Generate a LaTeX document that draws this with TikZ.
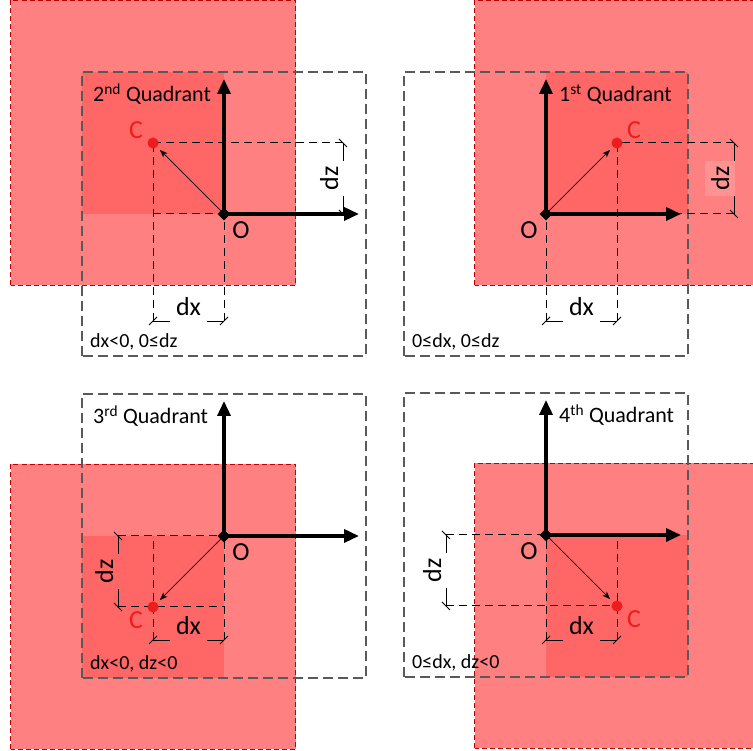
\documentclass[tikz,border=0pt]{standalone}
\usepackage{fontspec}
\setmainfont{Carlito}
\usetikzlibrary{arrows.meta, positioning, shapes.geometric}
\definecolor{sqred}{HTML}{FF8080}
\definecolor{quadred}{HTML}{FF6666}
\definecolor{dotred}{HTML}{EE1C1C}
\definecolor{boxgray}{HTML}{595959}
\tikzset{
  redsq/.style={fill=sqred, draw=red!75!black, dash pattern=on 5pt off 3pt, line width=0.8pt},
  graybox/.style={draw=boxgray, dash pattern=on 10pt off 5pt, line width=1.3pt},
  extline/.style={dash pattern=on 8pt off 5pt, line width=1pt},
  dimline/.style={line width=0.8pt},
  axisarrow/.style={line width=3.5pt, -{Triangle[length=15pt,width=13pt]}},
  vecarrow/.style={line width=0.7pt, -{Stealth[length=8pt,width=6pt]}, shorten >=4pt},
  origin/.style={diamond, fill=black, inner sep=0pt, minimum size=13pt},
  cpoint/.style={circle, fill=dotred, inner sep=0pt, minimum size=11pt},
  biglabel/.style={font=\fontsize{26}{30}\selectfont, inner sep=1pt},
  dimlabel/.style={biglabel, inner xsep=6pt, inner ysep=6pt},
  ordlabel/.style={font=\fontsize{22}{26}\selectfont, inner sep=0pt},
  condlabel/.style={font=\fontsize{20}{24}\selectfont, inner sep=0pt}
}

\begin{document}
\begin{tikzpicture}[x=1pt, y=1pt]
  \useasboundingbox (0,0) rectangle (753,751);
  \clip (0,0) rectangle (753,751);
  % quadrant / origin / signs of C / dim lines / ends of the dashed lines / texts / label fills
  \foreach \qn/\ox/\oy/\sx/\sy/\dzx/\dxy/\hc/\ho/\vc/\lx/\ord/\cond/\dxfill/\dzfill in {
    1/546/537/1/1/188/-107/71/0/71/13/{1\textsuperscript{st}}/{0≤dx, 0≤dz}/white/sqred!85!white,
    2/224/537/-1/1/119/-107/-71/-71/71/-131/{2\textsuperscript{nd}}/{dx<0, 0≤dz}/white/white,
    3/224/215/-1/-1/-106/-104/0/0/0/-131/{3\textsuperscript{rd}}/{dx<0, dz<0}/quadred/quadred,
    4/546/216/1/-1/-100/-105/71/0/0/13/{4\textsuperscript{th}}/{0≤dx, dz<0}/quadred/white}
  {
    \begin{scope}[shift={(\ox,\oy)}]
      \draw[redsq] (\sx*71-142.5, \sy*71-142.5) rectangle ++(285,285);
      \fill[quadred] (0,0) rectangle (\sx*142, \sy*142);
      \draw[graybox] (-142,-142) rectangle (142,142);

      \coordinate (dzC\qn) at (\dzx, \sy*71);
      \coordinate (dzO\qn) at (\dzx, 0);
      \coordinate (dxC\qn) at (\sx*71, \dxy);
      \coordinate (dxO\qn) at (0, \dxy);
      \coordinate (hC\qn) at (\hc, \sy*71);
      \coordinate (hO\qn) at (\ho, 0);
      \coordinate (vC\qn) at (\sx*71, \vc);
      \coordinate (vO\qn) at (0, 0);
      \coordinate (xend\qn) at (135, 0);
      \coordinate (zend\qn) at (0, 135);

      % dashed helper lines
      \draw[extline] (dzC\qn) -- (hC\qn);
      \draw[extline] (dzO\qn) -- (hO\qn);
      \draw[extline] (dxC\qn) -- (vC\qn);
      \draw[extline] (dxO\qn) -- (vO\qn);

      % dimension lines
      \draw[dimline] (dzC\qn) -- (dzO\qn);
      \draw[dimline] (dxC\qn) -- (dxO\qn);
      \foreach \p in {dzC, dzO}
        \draw[dimline] (\p\qn) ++(-4,4) -- ++(8,-8);
      \foreach \p in {dxC, dxO}
        \draw[dimline] (\p\qn) ++(-4,-4) -- ++(8,8);
      \node[dimlabel, rotate=90, anchor=base, fill=\dzfill] (dzl\qn) at (\dzx-5, \sy*35.5) {dz};
      \node[dimlabel, anchor=base, fill=\dxfill] (dxl\qn) at (\sx*35.5, \dxy+5) {dx};

      \node[origin] (O\qn) at (0,0) {};
      \node[cpoint] (C\qn) at (\sx*71, \sy*71) {};
      \draw[axisarrow] (O\qn.center) -- (xend\qn);
      \draw[axisarrow] (O\qn.center) -- (zend\qn);
      \draw[vecarrow] (O\qn) -- (C\qn);

      \node[biglabel, text=dotred] (Cl\qn) at (\sx*71+\sx*17, \sy*71+\sy*13) {C};
      \node[biglabel] (Ol\qn) at (-\sx*17, -16) {O};
      \node[ordlabel, anchor=base west] (ord\qn) at (\lx, 112) {\ord~Quadrant};
      \node[condlabel, anchor=base west] (cond\qn) at (-134, -134) {\cond};
    \end{scope}
  }
\end{tikzpicture}
\end{document}
